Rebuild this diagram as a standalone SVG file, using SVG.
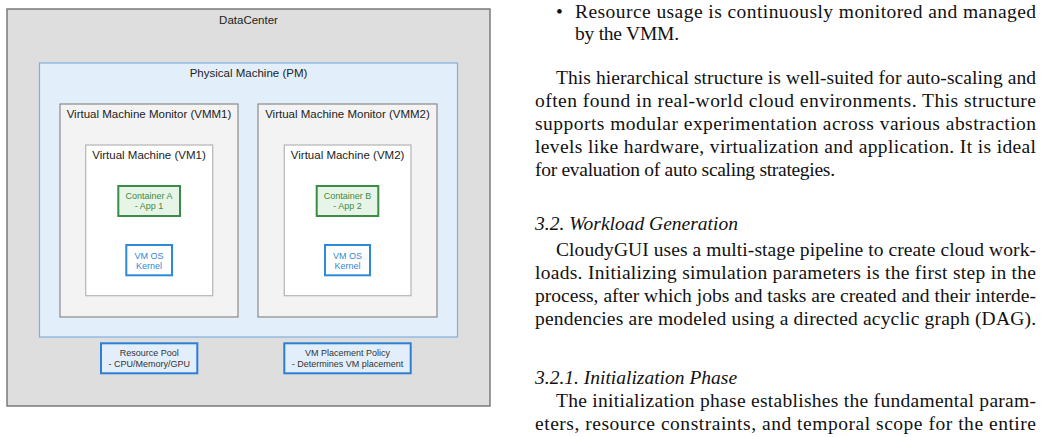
<svg xmlns="http://www.w3.org/2000/svg" width="1044" height="437" viewBox="0 0 1044 437">
<style>
.lbl{font-family:"Liberation Sans",Arial,sans-serif;font-size:11.5px;fill:#222;text-anchor:middle}
.sm{font-family:"Liberation Sans",Arial,sans-serif;font-size:9px;text-anchor:middle}
.body{font-family:"Liberation Serif","Times New Roman",serif;font-size:19.5px;fill:#111}
.it{font-style:italic}
.dc{fill:#dedede;stroke:#7a7a7a;stroke-width:1.5}
.pm{fill:#e2effb;stroke:#7fb0e0;stroke-width:1.2}
.vmm{fill:#f3f3f3;stroke:#8a8a8a;stroke-width:1.2}
.vm{fill:#ffffff;stroke:#b5b5b5;stroke-width:1.2}
.ct{fill:#e7f4e8;stroke:#3d8b45;stroke-width:2}
.kn{fill:#ffffff;stroke:#2c8ad8;stroke-width:2}
.rp{fill:#e2effb;stroke:#2c7fd4;stroke-width:2}
</style>
<rect width="1044" height="437" fill="#ffffff"/>
<g id="datacenter"><rect class="dc" x="7" y="9" width="483" height="397"/><text class="lbl" x="248.5" y="24">DataCenter</text></g>
<g id="pm"><rect class="pm" x="39.5" y="63" width="418" height="274"/><text class="lbl" x="248.5" y="77">Physical Machine (PM)</text></g>
<g id="vmm1"><rect class="vmm" x="60" y="104" width="178" height="213"/><text class="lbl" x="149" y="118">Virtual Machine Monitor (VMM1)</text></g>
<g id="vmm2"><rect class="vmm" x="258" y="104" width="179" height="213"/><text class="lbl" x="347.5" y="118">Virtual Machine Monitor (VMM2)</text></g>
<g id="vm1"><rect class="vm" x="85.7" y="145" width="127" height="150.7"/><text class="lbl" x="149" y="159">Virtual Machine (VM1)</text></g>
<g id="vm2"><rect class="vm" x="284.3" y="145" width="126.7" height="150.7"/><text class="lbl" x="347.6" y="159">Virtual Machine (VM2)</text></g>
<g id="containerA"><rect class="ct" x="118.3" y="186" width="61.7" height="30"/><text class="sm" fill="#3d8b40" x="149" y="199">Container A</text><text class="sm" fill="#3d8b40" x="149" y="209">- App 1</text></g>
<g id="containerB"><rect class="ct" x="316.7" y="186" width="61.6" height="30"/><text class="sm" fill="#3d8b40" x="347.5" y="199">Container B</text><text class="sm" fill="#3d8b40" x="347.5" y="209">- App 2</text></g>
<g id="kernel1"><rect class="kn" x="126.3" y="245" width="45.7" height="30.3"/><text class="sm" fill="#3388d6" x="149" y="258.5">VM OS</text><text class="sm" fill="#3388d6" x="149" y="269">Kernel</text></g>
<g id="kernel2"><rect class="kn" x="325" y="245" width="45" height="30.3"/><text class="sm" fill="#3388d6" x="347.5" y="258.5">VM OS</text><text class="sm" fill="#3388d6" x="347.5" y="269">Kernel</text></g>
<g id="resourcepool"><rect class="rp" x="101" y="343.3" width="96.3" height="30"/><text class="sm" fill="#333" x="149.2" y="356">Resource Pool</text><text class="sm" fill="#333" x="149.2" y="366.5">- CPU/Memory/GPU</text></g>
<g id="placement"><rect class="rp" x="284.3" y="343.3" width="126.4" height="30"/><text class="sm" fill="#333" x="347.5" y="356">VM Placement Policy</text><text class="sm" fill="#333" x="347.5" y="366.5">- Determines VM placement</text></g>
<g id="connectors"></g>
<g id="text">
<text class="body" x="556" y="18">•</text>
<text class="body" x="575" y="18" textLength="461" lengthAdjust="spacing">Resource usage is continuously monitored and managed</text>
<text class="body" x="575" y="40" textLength="104" lengthAdjust="spacing">by the VMM.</text>
<text class="body" x="556" y="84" textLength="480" lengthAdjust="spacing">This hierarchical structure is well-suited for auto-scaling and</text>
<text class="body" x="535" y="107" textLength="501" lengthAdjust="spacing">often found in real-world cloud environments.  This structure</text>
<text class="body" x="535" y="130" textLength="501" lengthAdjust="spacing">supports modular experimentation across various abstraction</text>
<text class="body" x="535" y="153" textLength="501" lengthAdjust="spacing">levels like hardware, virtualization and application.  It is ideal</text>
<text class="body" x="535" y="176" textLength="300" lengthAdjust="spacing">for evaluation of auto scaling strategies.</text>
<text class="body it" x="535" y="230">3.2.  Workload Generation</text>
<text class="body" x="556" y="256" textLength="480" lengthAdjust="spacing">CloudyGUI uses a multi-stage pipeline to create cloud work-</text>
<text class="body" x="535" y="279" textLength="501" lengthAdjust="spacing">loads.  Initializing simulation parameters is the first step in the</text>
<text class="body" x="535" y="302" textLength="501" lengthAdjust="spacing">process, after which jobs and tasks are created and their interde-</text>
<text class="body" x="535" y="325" textLength="501" lengthAdjust="spacing">pendencies are modeled using a directed acyclic graph (DAG).</text>
<text class="body it" x="535" y="384">3.2.1.  Initialization Phase</text>
<text class="body" x="556" y="407" textLength="480" lengthAdjust="spacing">The initialization phase establishes the fundamental param-</text>
<text class="body" x="535" y="430" textLength="501" lengthAdjust="spacing">eters, resource constraints, and temporal scope for the entire</text>
</g>
</svg>
